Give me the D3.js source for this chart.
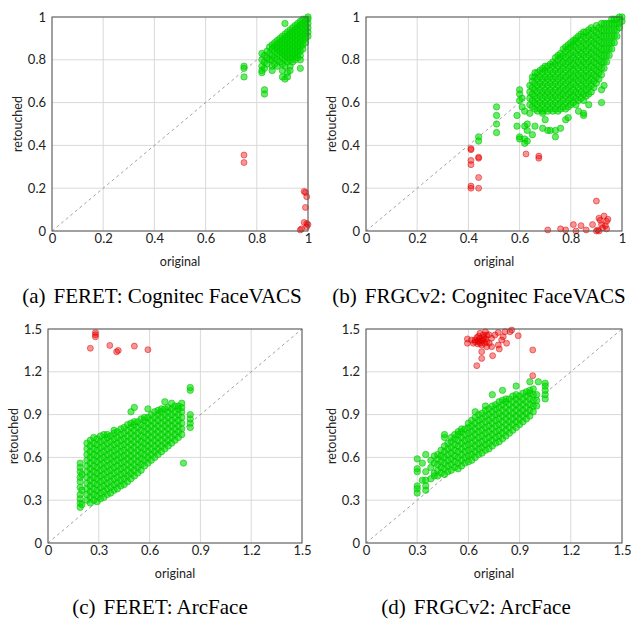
<!DOCTYPE html>
<html>
<head>
<meta charset="utf-8">
<script src="https://cdn.jsdelivr.net/npm/d3@7"></script>
<style>
  body { margin: 0; background: #fff; }
</style>
</head>
<body>
<div id="chart"></div>
<script>
// ticks
const ticksFaceVACS = [0, 0.2, 0.4, 0.6, 0.8, 1];
const ticksArcFace = [0, 0.3, 0.6, 0.9, 1.2, 1.5];

const captions = [
  ["(a)", "FERET: Cognitec FaceVACS"],
  ["(b)", "FRGCv2: Cognitec FaceVACS"],
  ["(c)", "FERET: ArcFace"],
  ["(d)", "FRGCv2: ArcFace"]
];

// green points, grouped by original score: [original, [retouched, ...]], in hundredths
const greenA = [
  [75, [77, 76, 72]],
  [82, [83, 80, 77, 75, 74]],
  [83, [82, 79, 76, 66, 64]],
  [84, [84, 81, 78]],
  [85, [86, 83, 80]],
  [86, [87, 85, 82, 80, 77, 75]],
  [87, [88, 86, 84, 81, 78]],
  [88, [89, 87, 85, 83, 80, 77]],
  [89, [90, 88, 86, 84, 82, 79]],
  [90, [91, 89, 87, 85, 83, 81, 78, 75, 72]],
  [91, [97, 92, 90, 88, 86, 84, 82, 80, 77, 71]],
  [92, [93, 91, 89, 87, 85, 83, 81, 79, 74, 72]],
  [93, [94, 92, 90, 88, 86, 84, 82, 80, 77, 75]],
  [94, [95, 93, 91, 89, 87, 85, 83, 81, 79]],
  [95, [96, 94, 92, 90, 88, 86, 84, 82, 80]],
  [96, [97, 95, 93, 91, 89, 87, 85, 83, 81]],
  [97, [98, 96, 94, 92, 90, 88, 86, 84, 82, 80, 76]],
  [98, [99, 97, 95, 93, 91, 89, 87, 85]],
  [99, [99, 98, 96, 94, 92, 90, 88]],
  [100, [100, 99, 97, 95, 93, 91]]
];

const greenB = [
  [44, [44, 42]],
  [51, [58, 54, 50, 46]],
  [59, [54, 49]],
  [60, [66, 64, 61, 44, 43]],
  [61, [62, 58]],
  [62, [56, 49, 43, 41]],
  [63, [50, 47, 42]],
  [64, [59, 62, 65, 68, 55]],
  [65, [58, 61, 64, 67, 70, 72, 45]],
  [66, [57, 60, 63, 66, 69, 72, 74, 49]],
  [67, [56, 59, 62, 65, 68, 71, 74]],
  [68, [57, 60, 63, 66, 69, 72, 75]],
  [69, [56, 59, 62, 65, 68, 71, 74, 76, 55, 48]],
  [70, [57, 60, 63, 66, 69, 72, 75, 77, 52]],
  [71, [56, 59, 62, 65, 68, 71, 74, 77, 47]],
  [72, [57, 60, 63, 66, 69, 72, 75, 78, 47]],
  [73, [56, 59, 62, 65, 68, 71, 74, 77, 79]],
  [74, [57, 60, 63, 66, 69, 72, 75, 78, 81, 44, 47]],
  [75, [56, 59, 62, 65, 68, 71, 74, 77, 80, 82]],
  [76, [57, 60, 63, 66, 69, 72, 75, 78, 81, 83, 48]],
  [77, [58, 61, 64, 67, 70, 73, 76, 79, 82, 85]],
  [78, [57, 60, 63, 66, 69, 72, 75, 78, 81, 84, 86, 52]],
  [79, [58, 61, 64, 67, 70, 73, 76, 79, 82, 85, 87, 53]],
  [80, [59, 62, 65, 68, 71, 74, 77, 80, 83, 86, 88]],
  [81, [60, 63, 66, 69, 72, 75, 78, 81, 84, 87, 89]],
  [82, [59, 62, 65, 68, 71, 74, 77, 80, 83, 86, 89, 90]],
  [83, [61, 64, 67, 70, 73, 76, 79, 82, 85, 88, 91, 56]],
  [84, [62, 65, 68, 71, 74, 77, 80, 83, 86, 89, 92]],
  [85, [61, 64, 67, 70, 73, 76, 79, 82, 85, 88, 91, 93, 54, 55]],
  [86, [63, 66, 69, 72, 75, 78, 81, 84, 87, 90, 93]],
  [87, [64, 67, 70, 73, 76, 79, 82, 85, 88, 91, 94, 59]],
  [88, [65, 68, 71, 74, 77, 80, 83, 86, 89, 92, 95]],
  [89, [67, 70, 73, 76, 79, 82, 85, 88, 91, 94]],
  [90, [69, 72, 75, 78, 81, 84, 87, 90, 93, 96]],
  [91, [71, 74, 77, 80, 83, 86, 89, 92, 95]],
  [92, [73, 76, 79, 82, 85, 88, 91, 94, 97, 66, 60]],
  [93, [76, 79, 82, 85, 88, 91, 94, 97, 68]],
  [94, [79, 82, 85, 88, 91, 94, 97]],
  [95, [82, 85, 88, 91, 94, 97]],
  [96, [85, 88, 91, 94, 97, 99]],
  [97, [88, 91, 94, 97, 99]],
  [98, [91, 94, 97, 99]],
  [99, [95, 97, 100]],
  [100, [98, 100]]
];

const greenC = [
  [19, [25, 28, 31, 34, 39, 43, 46, 50, 53, 56]],
  [20, [27, 37, 48]],
  [23, [30, 34, 38, 42, 46, 50, 54, 58, 62, 66, 70]],
  [25, [28, 32, 36, 40, 44, 48, 52, 56, 60, 64, 68, 72]],
  [27, [30, 34, 38, 42, 46, 50, 54, 58, 62, 66, 70, 74]],
  [29, [29, 33, 37, 41, 45, 49, 53, 57, 61, 65, 69, 73]],
  [31, [31, 35, 39, 43, 47, 51, 55, 59, 63, 67, 71, 75]],
  [33, [32, 36, 40, 44, 48, 52, 56, 60, 64, 68, 72, 76]],
  [35, [34, 38, 42, 46, 50, 54, 58, 62, 66, 70, 74, 76]],
  [37, [35, 39, 43, 47, 51, 55, 59, 63, 67, 71, 75]],
  [39, [37, 41, 45, 49, 53, 57, 61, 65, 69, 73, 77, 79]],
  [41, [38, 42, 46, 50, 54, 58, 62, 66, 70, 74, 78]],
  [43, [40, 44, 48, 52, 56, 60, 64, 68, 72, 76, 80]],
  [45, [41, 45, 49, 53, 57, 61, 65, 69, 73, 77, 81]],
  [47, [43, 47, 51, 55, 59, 63, 67, 71, 75, 79, 83]],
  [49, [45, 49, 53, 57, 61, 65, 69, 73, 77, 81, 84, 92]],
  [51, [47, 51, 55, 59, 63, 67, 71, 75, 79, 83, 85, 95]],
  [53, [49, 53, 57, 61, 65, 69, 73, 77, 81, 85]],
  [55, [51, 55, 59, 63, 67, 71, 75, 79, 83, 87]],
  [57, [54, 58, 62, 66, 70, 74, 78, 82, 86, 88]],
  [59, [56, 60, 64, 68, 72, 76, 80, 84, 88, 94]],
  [61, [58, 62, 66, 70, 74, 78, 82, 86, 90]],
  [63, [60, 64, 68, 72, 76, 80, 84, 88, 92]],
  [65, [62, 66, 70, 74, 78, 82, 86, 90, 93]],
  [67, [64, 68, 72, 76, 80, 84, 88, 92, 94]],
  [69, [66, 70, 74, 78, 82, 86, 90, 94, 99]],
  [71, [68, 72, 76, 80, 84, 88, 92, 95]],
  [73, [70, 74, 78, 82, 86, 90, 94, 98]],
  [75, [72, 76, 80, 84, 88, 92, 96]],
  [77, [74, 78, 82, 86, 90, 94, 96]],
  [79, [76, 80, 84, 88, 92, 95, 98]],
  [80, [56]],
  [84, [81, 84, 87, 90, 107, 109]]
];

const greenD = [
  [30, [59, 52, 50, 40, 38, 35]],
  [33, [44, 56]],
  [35, [62, 50, 44, 40, 37]],
  [38, [45, 58, 53]],
  [40, [61, 56, 49, 47]],
  [42, [47, 51, 55, 59, 62]],
  [44, [49, 53, 57, 61, 65]],
  [46, [48, 52, 56, 60, 64, 68, 74, 76]],
  [48, [50, 54, 58, 62, 66, 70]],
  [50, [51, 55, 59, 63, 67, 71, 74]],
  [52, [53, 57, 61, 65, 69, 73, 76]],
  [54, [52, 56, 60, 64, 68, 72, 76, 78]],
  [56, [54, 58, 62, 66, 70, 74, 78, 80]],
  [58, [56, 60, 64, 68, 72, 76, 80]],
  [60, [57, 61, 65, 69, 73, 77, 81, 84]],
  [62, [58, 62, 66, 70, 74, 78, 82, 86]],
  [64, [60, 64, 68, 72, 76, 80, 84, 88, 92]],
  [66, [62, 66, 70, 74, 78, 82, 86, 90]],
  [68, [63, 67, 71, 75, 79, 83, 87, 91]],
  [70, [65, 69, 73, 77, 81, 85, 89, 93, 96]],
  [72, [66, 70, 74, 78, 82, 86, 90, 94]],
  [74, [68, 72, 76, 80, 84, 88, 92, 96, 104]],
  [76, [70, 74, 78, 82, 86, 90, 94, 97]],
  [78, [71, 75, 79, 83, 87, 91, 95, 99]],
  [80, [73, 77, 81, 85, 89, 93, 97, 100, 107]],
  [82, [75, 79, 83, 87, 91, 95, 99, 101]],
  [84, [77, 81, 85, 89, 93, 97, 101]],
  [86, [79, 83, 87, 91, 95, 99, 103]],
  [88, [81, 85, 89, 93, 97, 101, 104, 110]],
  [90, [83, 87, 91, 95, 99, 103]],
  [92, [85, 89, 93, 97, 101, 105]],
  [94, [87, 91, 95, 99, 103, 106]],
  [96, [89, 93, 97, 101, 105, 107, 113]],
  [98, [92, 96, 100, 104, 108]],
  [100, [96, 100, 104]],
  [101, [113]],
  [105, [101, 104, 107, 110, 112]]
];

// red points: [original, retouched]
const redA = [
  [0.75, 0.355], [0.75, 0.32], [0.985, 0.185], [0.99, 0.18], [0.995, 0.16],
  [0.99, 0.11], [0.985, 0.04], [0.995, 0.035], [0.995, 0.02], [0.975, 0.01],
  [0.97, 0.005], [1.0, 0.03]
];

const redB = [
  [0.41, 0.385], [0.41, 0.38], [0.41, 0.33], [0.41, 0.31], [0.41, 0.21], [0.41, 0.20],
  [0.44, 0.345], [0.44, 0.34], [0.44, 0.25], [0.44, 0.20], [0.625, 0.36], [0.675, 0.35],
  [0.675, 0.34], [0.90, 0.14], [0.71, 0.005], [0.76, 0.01], [0.78, 0.005], [0.81, 0.03],
  [0.82, 0.0], [0.84, 0.025], [0.86, 0.005], [0.885, 0.03], [0.90, 0.0], [0.905, 0.005],
  [0.91, 0.06], [0.915, 0.05], [0.92, 0.03], [0.93, 0.07], [0.935, 0.025], [0.94, 0.045],
  [0.94, 0.01], [0.945, 0.055], [0.91, 0.0], [0.925, 0.015]
];

const redC = [
  [0.25, 1.365], [0.28, 1.475], [0.28, 1.46], [0.28, 1.445], [0.365, 1.385],
  [0.405, 1.34], [0.415, 1.35], [0.51, 1.38], [0.59, 1.355]
];

const redD = [
  [0.594, 1.43], [0.594, 1.40], [0.619, 1.423], [0.629, 1.40], [0.639, 1.423],
  [0.658, 1.411], [0.668, 1.435], [0.668, 1.47], [0.687, 1.423], [0.687, 1.458],
  [0.707, 1.458], [0.707, 1.411], [0.707, 1.376], [0.678, 1.388], [0.722, 1.40],
  [0.736, 1.435], [0.736, 1.376], [0.756, 1.458], [0.775, 1.476], [0.775, 1.388],
  [0.781, 1.36], [0.795, 1.423], [0.804, 1.446], [0.814, 1.481], [0.824, 1.40],
  [0.844, 1.481], [0.854, 1.493], [0.892, 1.453], [0.678, 1.341], [0.678, 1.294],
  [0.742, 1.313], [0.649, 1.243], [0.977, 1.353], [0.977, 1.173], [0.65, 1.44],
  [0.66, 1.42], [0.67, 1.40], [0.69, 1.44], [0.70, 1.43], [0.64, 1.41],
  [0.655, 1.395], [0.68, 1.415], [0.695, 1.40], [0.66, 1.45], [0.70, 1.48], [0.72, 1.46]
];

const width = 631, height = 620;
const svg = d3.select("#chart").append("svg")
  .attr("width", width)
  .attr("height", height);

const panels = [
  { left: 52, top: 17, w: 256, h: 214, ticks: ticksFaceVACS, green: greenA, red: redA, cap: captions[0], capX: 162, capY: 303 },
  { left: 366, top: 17, w: 256, h: 214, ticks: ticksFaceVACS, green: greenB, red: redB, cap: captions[1], capX: 479, capY: 303 },
  { left: 48, top: 329, w: 254, h: 214, ticks: ticksArcFace, green: greenC, red: redC, cap: captions[2], capX: 160, capY: 614 },
  { left: 366, top: 329, w: 256, h: 214, ticks: ticksArcFace, green: greenD, red: redD, cap: captions[3], capX: 476, capY: 614 }
];

const tickFont = "Lato, 'Open Sans', sans-serif";

panels.forEach(p => {
  const max = p.ticks[p.ticks.length - 1];
  const x = d3.scaleLinear().domain([0, max]).range([0, p.w]);
  const y = d3.scaleLinear().domain([0, max]).range([p.h, 0]);
  const g = svg.append("g").attr("transform", `translate(${p.left},${p.top})`);

  // grid
  g.append("g").selectAll("line").data(p.ticks).enter().append("line")
    .attr("x1", d => x(d)).attr("x2", d => x(d)).attr("y1", 0).attr("y2", p.h)
    .attr("stroke", "#d9d9d9").attr("stroke-width", 1);
  g.append("g").selectAll("line").data(p.ticks).enter().append("line")
    .attr("x1", 0).attr("x2", p.w).attr("y1", d => y(d)).attr("y2", d => y(d))
    .attr("stroke", "#d9d9d9").attr("stroke-width", 1);

  // diagonal
  g.append("line")
    .attr("x1", x(0)).attr("y1", y(0)).attr("x2", x(max)).attr("y2", y(max))
    .attr("stroke", "#8a8a8a").attr("stroke-width", 0.8)
    .attr("stroke-dasharray", "3,3");

  const greenPts = p.green.flatMap(([ox, ys]) => ys.map(ry => [ox / 100, ry / 100]));

  g.append("g").selectAll("circle").data(greenPts).enter().append("circle")
    .attr("cx", d => x(d[0])).attr("cy", d => y(d[1])).attr("r", 3.2)
    .attr("fill", "#00dd00").attr("fill-opacity", 0.6)
    .attr("stroke", "#00c400").attr("stroke-opacity", 0.7).attr("stroke-width", 0.8);

  g.append("g").selectAll("circle").data(p.red).enter().append("circle")
    .attr("cx", d => x(d[0])).attr("cy", d => y(d[1])).attr("r", 3)
    .attr("fill", "#ee0000").attr("fill-opacity", 0.42)
    .attr("stroke", "#dd0000").attr("stroke-opacity", 0.6).attr("stroke-width", 0.8);

  // frame
  g.append("rect").attr("width", p.w).attr("height", p.h)
    .attr("fill", "none").attr("stroke", "#555").attr("stroke-width", 1);

  // axes (labels only)
  const xa = g.append("g").attr("transform", `translate(0,${p.h})`)
    .call(d3.axisBottom(x).tickValues(p.ticks).tickSize(0).tickPadding(3).tickFormat(String));
  const ya = g.append("g")
    .call(d3.axisLeft(y).tickValues(p.ticks).tickSize(0).tickPadding(6).tickFormat(String));
  [xa, ya].forEach(a => {
    a.select(".domain").remove();
    a.selectAll("text").style("font-family", tickFont).style("font-size", "13px").attr("fill", "#222");
  });

  g.append("text")
    .attr("x", p.w / 2).attr("y", p.h + 35)
    .attr("text-anchor", "middle")
    .style("font-family", tickFont).style("font-size", "12.5px").attr("fill", "#222")
    .text("original");

  g.append("text")
    .attr("transform", `translate(${-30},${p.h / 2}) rotate(-90)`)
    .attr("text-anchor", "middle")
    .style("font-family", tickFont).style("font-size", "12.5px").attr("fill", "#222")
    .text("retouched");

  const cap = svg.append("text")
    .attr("x", p.capX).attr("y", p.capY)
    .attr("text-anchor", "middle")
    .style("font-family", "'Liberation Serif', 'Times New Roman', serif")
    .style("font-size", "21px").attr("fill", "#000");
  cap.append("tspan").text(p.cap[0]);
  cap.append("tspan").attr("dx", 8).text(p.cap[1]);
});
</script>
</body>
</html>
